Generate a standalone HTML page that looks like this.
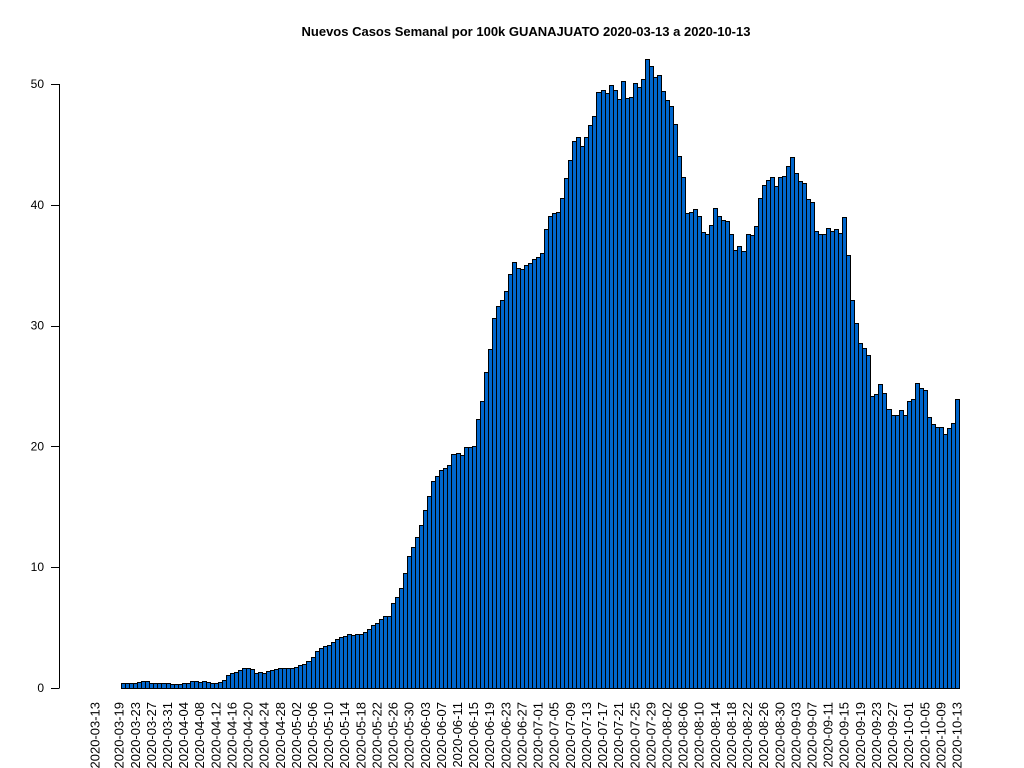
<!DOCTYPE html>
<html><head><meta charset="utf-8"><style>
html,body{margin:0;padding:0;background:#fff;}
svg{display:block;font-family:"Liberation Sans",sans-serif;}
</style></head><body>
<svg id="chart" width="1024" height="768" viewBox="0 0 1024 768" xmlns="http://www.w3.org/2000/svg">
<text x="526" y="36" text-anchor="middle" font-size="13" font-weight="bold">Nuevos Casos Semanal por 100k GUANAJUATO 2020-03-13 a 2020-10-13</text>
<g id="yaxis"></g>
<g id="bars"></g>
<g id="xlabels"></g>
</svg>
<script>
const startDate = "2020-03-13";
const values = [
0,0,0,0,0,0,0,
0.39,0.39,0.39,0.39,0.47,0.55,0.55,
0.39,0.39,0.39,0.39,0.39,0.30,0.30,0.30,0.39,0.39,0.55,0.55,0.47,0.55,0.47,0.39,0.39,0.47,0.63,
1.05,1.21,1.3,1.46,1.63,1.63,1.55,1.21,1.3,1.21,1.38,1.46,1.55,1.63,1.63,1.63,1.63,1.71,1.88,1.96,
2.2,2.54,3.04,3.28,3.45,3.6,3.8,4.03,4.2,
4.30,4.47,4.39,4.47,4.47,4.64,4.88,5.22,5.38,5.71,5.96,5.96,7.04,7.53,8.28,9.52,10.93,11.67,12.5,13.49,
14.74,15.89,17.14,17.55,18.05,18.21,18.46,19.37,19.45,19.29,19.95,19.95,20.03,22.27,23.76,26.16,28.06,
30.63,31.62,32.12,32.86,34.27,35.26,34.77,34.69,35.02,35.18,35.51,35.68,36.0,
37.99,39.07,39.3,39.4,40.6,42.2,43.7,45.26,45.6,44.9,45.6,46.6,47.35,49.3,49.5,49.25,49.9,49.5,48.75,
50.25,48.8,48.9,50.1,49.75,50.4,52.07,51.5,50.6,50.75,49.4,48.7,48.2,46.7,44.0,42.3,39.3,39.4,39.65,
39.07,37.75,37.58,38.33,39.74,39.07,38.74,38.66,37.58,36.25,36.6,36.2,37.58,37.5,38.25,40.6,41.6,42.05,
42.3,41.55,42.3,
42.38,43.2,43.96,42.6,41.97,41.8,40.5,40.2,37.83,37.58,37.58,38.08,37.83,38.0,37.66,38.99,35.84,32.1,
30.2,28.56,28.15,27.57,24.18,24.34,25.17,24.43,23.1,22.6,22.6,23.0,22.6,23.76,23.93,25.25,24.84,24.67,
22.43,21.85,21.6,21.6,21.03,21.5,21.94,23.93
];
const yTicks = [0,10,20,30,40,50];

const NS = "http://www.w3.org/2000/svg";
const y0 = 688, pxPerUnit = (688-84)/50;
const xLeft = 93, xRight = 959;
const n = values.length;
const pitch = (xRight - xLeft) / n;
function yScale(v){ return y0 - v * pxPerUnit; }
function xScale(i){ return xLeft + i * pitch; }
function mk(tag, attrs){ const e = document.createElementNS(NS, tag); for (const k in attrs) e.setAttribute(k, attrs[k]); return e; }

const ya = document.getElementById('yaxis');
const axl = mk('line',{x1:59.5,x2:59.5,y1:yScale(50),y2:yScale(0),stroke:'#000','stroke-width':1});


ya.appendChild(axl);
yTicks.forEach(t=>{
  const yy = Math.round(yScale(t)) + 0.5;
  const tk = mk('line',{x1:51,x2:59.5,y1:yy,y2:yy,stroke:'#000','stroke-width':1});
  
  
  ya.appendChild(tk);
  const tl = mk('text',{x:44,y:yScale(t)+4,'text-anchor':'end','font-size':12});
  
  
  tl.textContent = t;
  ya.appendChild(tl);
});

const bg = document.getElementById('bars');
values.forEach((v,i)=>{
  const x1 = Math.round(xScale(i)) + 0.5;
  const x2 = Math.round(xScale(i+1)) + 0.5;
  const top = Math.round(yScale(v)) + 0.5;
  const r = mk('rect',{x:x1,y:top,width:x2-x1,height:Math.max(y0+0.5-top,0),fill:'#0066CC',stroke:'#000','stroke-width':1.3,'shape-rendering':'crispEdges'});
  
  
  bg.appendChild(r);
});

const xl = document.getElementById('xlabels');
const d0 = new Date(startDate + "T00:00:00Z");
function fmt(i){ const d = new Date(d0.getTime() + i*86400000); return d.toISOString().slice(0,10); }
const labelIdx = [0];
for (let i = 6; i < n; i += 4) labelIdx.push(i);
labelIdx.forEach(i=>{
  const cx = xScale(i) + pitch/2 + 4.5;
  const t = mk('text',{x:0,y:0,'text-anchor':'end','font-size':13,transform:`translate(${cx},702) rotate(-90)`});
  
  
  t.textContent = fmt(i);
  xl.appendChild(t);
});
</script>
</body></html>
